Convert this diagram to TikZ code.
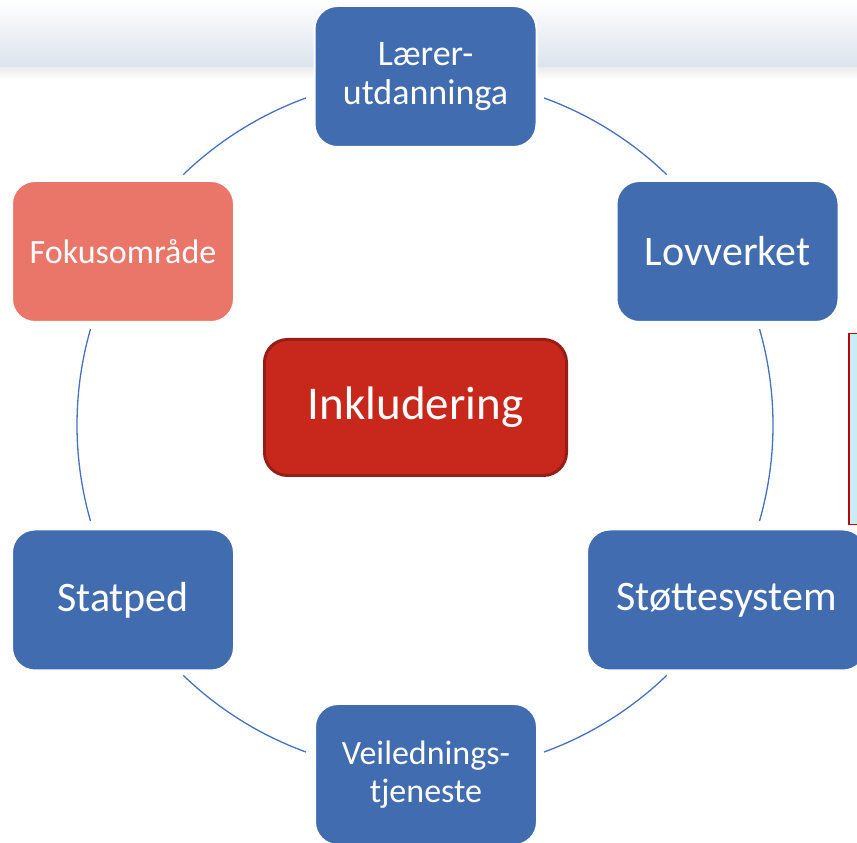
\documentclass[tikz,border=0pt]{standalone}
\usepackage{fontspec}
\setmainfont{Carlito}
\usetikzlibrary{calc}

\begin{document}
\begin{tikzpicture}[x=1pt,y=1pt]

\definecolor{clrblue}{RGB}{65,108,176}
\definecolor{clrline}{RGB}{68,114,196}
\definecolor{clrfokus}{RGB}{234,118,106}
\definecolor{clrred}{RGB}{200,40,27}
\definecolor{clrdred}{RGB}{150,30,22}
\definecolor{lcyan}{RGB}{200,238,245}
\definecolor{lband}{RGB}{219,227,236}

\def\rad{348}
\def\bigfont{\fontsize{42}{46}\selectfont}
\def\midfont{\fontsize{35}{39}\selectfont}

\tikzset{
  box/.style={draw=white, line width=2pt, fill=clrblue, text=white,
    rounded corners=23pt, minimum width=222pt, minimum height=141pt,
    inner sep=0pt, align=center}
}

\useasboundingbox (0,0) rectangle (857,843);

% header band
\shade[top color=white, bottom color=lband] (0,775) rectangle (857,843);
\shade[top color=black!7, bottom color=white] (0,763) rectangle (857,775);

\coordinate (c) at (425,418);

% ring between the boxes
\foreach \a/\b in {46/70,110/134,164/196,226/250,290/314,-16/16}{
  \draw[clrline, line width=1.3pt] ($(c)+(\a:\rad pt)$) arc[start angle=\a, end angle=\b, radius=\rad pt];
}

\node[box, font=\fontsize{36}{39}\selectfont] (laerer) at (425.5,766.5) {Lærer-\\utdanninga};
\node[box, font=\bigfont] (lov) at (727.5,591.5) {Lovverket};
\node[box, font=\bigfont, minimum width=279pt] (stotte) at (726.5,243) {Støttesystem};
\node[box, font=\fontsize{34}{38}\selectfont] (veil) at (426,68.5) {Veilednings-\\tjeneste};
\node[box, font=\bigfont] (statped) at (123,243) {Statped};
\node[box, fill=clrfokus, font=\fontsize{34}{38}\selectfont] (fokus) at (123,591.5) {Fokusområde};

\node[box, draw=clrdred, line width=3pt, fill=clrred, minimum width=302pt,
  minimum height=136pt, font=\fontsize{47}{50}\selectfont] (inkl) at (415.5,435.5) {Inkludering};

\node[draw=red!75!black, line width=1.5pt, fill=lcyan, minimum width=24pt,
  minimum height=191pt, inner sep=0pt] (side) at (861,414) {};

\end{tikzpicture}
\end{document}
